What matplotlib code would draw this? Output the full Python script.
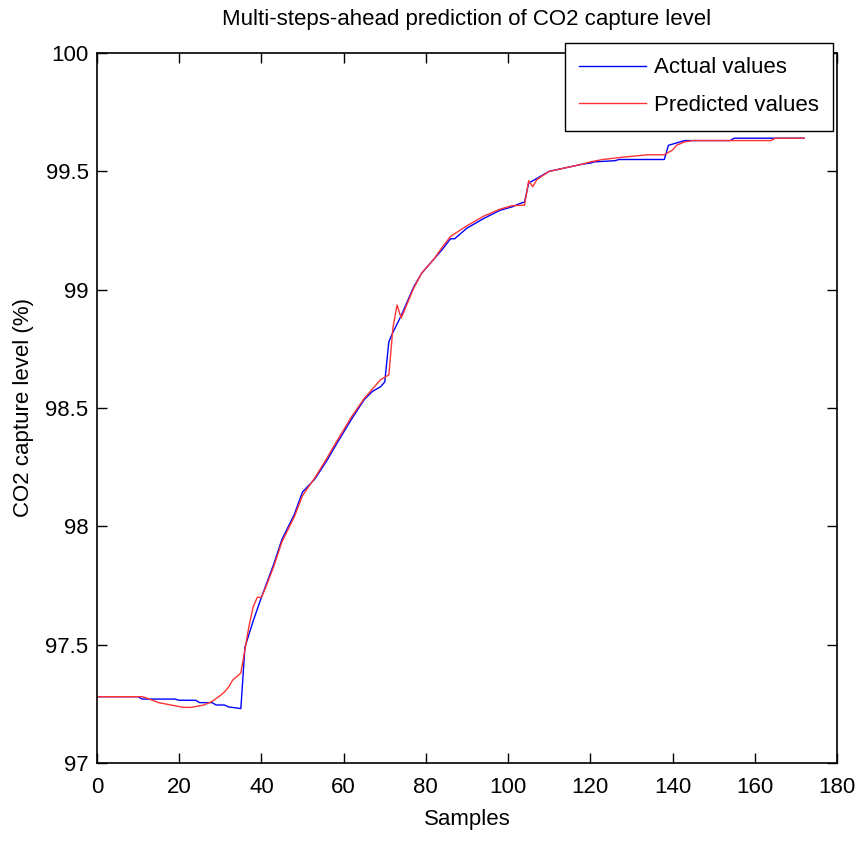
import matplotlib.pyplot as plt
from matplotlib import font_manager

# actual CO2 capture level, read at the break points of the curve
actual_x = [0, 10, 11, 19, 20, 24, 25, 28, 29, 31, 32, 35, 36, 38, 40, 43, 45, 48,
            50, 53, 56, 58, 62, 65, 67, 69, 70, 71, 72, 74, 77, 79, 82, 84, 86, 87,
            90, 94, 98, 101, 103, 104, 105, 107, 110, 114, 118, 120, 121, 126, 127,
            138, 139, 141, 143, 154, 155, 172]
actual_y = [97.28, 97.28, 97.27, 97.27, 97.265, 97.265, 97.255, 97.255, 97.245,
            97.245, 97.237, 97.23, 97.49, 97.60, 97.70, 97.84, 97.945, 98.05,
            98.145, 98.20, 98.28, 98.34, 98.455, 98.535, 98.57, 98.59, 98.61,
            98.78, 98.82, 98.89, 99.01, 99.07, 99.13, 99.17, 99.215, 99.215,
            99.26, 99.30, 99.335, 99.35, 99.365, 99.37, 99.45, 99.47, 99.50,
            99.515, 99.53, 99.535, 99.54, 99.545, 99.55,
            99.55, 99.61, 99.62, 99.63, 99.63, 99.64, 99.64]

# predicted values
pred_x = [0, 11, 12, 15, 18, 21, 23, 26, 28, 30, 31, 32, 33, 35, 36, 37, 38, 39,
          40, 41, 43, 45, 48, 50, 53, 56, 58, 62, 65, 67, 69, 70, 71, 72, 73, 74,
          77, 79, 82, 84, 86, 90, 94, 98, 101, 104, 105, 106, 107, 110, 114, 118,
          120, 123, 128, 134, 138, 140, 141, 143, 145, 164, 165, 172]
pred_y = [97.28, 97.28, 97.275, 97.255, 97.245, 97.235, 97.235, 97.245, 97.26,
          97.285, 97.30, 97.32, 97.35, 97.38, 97.48, 97.58, 97.66, 97.70,
          97.70, 97.74, 97.83, 97.935, 98.04, 98.13, 98.205, 98.29, 98.35,
          98.465, 98.54, 98.58, 98.62, 98.63, 98.64, 98.84, 98.935, 98.88,
          99.005, 99.07, 99.13, 99.18, 99.225, 99.27, 99.31, 99.34, 99.355,
          99.357, 99.46, 99.435, 99.465, 99.50, 99.515, 99.53,
          99.54, 99.55, 99.56, 99.57, 99.57, 99.59, 99.61, 99.625, 99.63,
          99.63, 99.64, 99.64]

names = [f.name for f in font_manager.fontManager.ttflist]
if 'Liberation Sans Narrow' in names:
    plt.rcParams['font.family'] = ['Liberation Sans Narrow', 'DejaVu Sans']
    fs = 20
else:
    plt.rcParams['font.family'] = ['Liberation Sans', 'DejaVu Sans']
    fs = 16

fig = plt.figure(figsize=(8.58, 8.44), dpi=100)
ax = fig.add_axes([0.113, 0.096, 0.8625, 0.8412])

ax.plot(actual_x, actual_y, color='#0000ff', linewidth=1, label='Actual values')
ax.plot(pred_x, pred_y, color='#ff3333', linewidth=1, label='Predicted values')

ax.set_xlim(0, 180)
ax.set_ylim(97, 100)
ax.set_xticks(range(0, 181, 20))
ax.set_yticks([97, 97.5, 98, 98.5, 99, 99.5, 100])
ax.set_yticklabels(['97', '97.5', '98', '98.5', '99', '99.5', '100'])
ax.tick_params(direction='in', top=True, right=True, length=7, width=1,
               labelsize=fs, pad=6)
ax.tick_params(axis='x', pad=10)
for s in ax.spines.values():
    s.set_linewidth(1.2)

ax.set_xlabel('Samples', fontsize=fs, labelpad=8)
ax.set_ylabel('CO2 capture level (%)', fontsize=fs, labelpad=8)
ax.set_title('Multi-steps-ahead prediction of CO2 capture level', fontsize=fs, pad=20)

leg = ax.legend(loc='upper right', bbox_to_anchor=(833 / 858, 1 - 43 / 844),
                bbox_transform=fig.transFigure, fontsize=fs, fancybox=False,
                framealpha=1, edgecolor='black', handlelength=3.0,
                borderaxespad=0, borderpad=0.65, labelspacing=0.75,
                handletextpad=0.35)
leg.get_frame().set_linewidth(1)

fig.savefig('out.png', dpi=100)
